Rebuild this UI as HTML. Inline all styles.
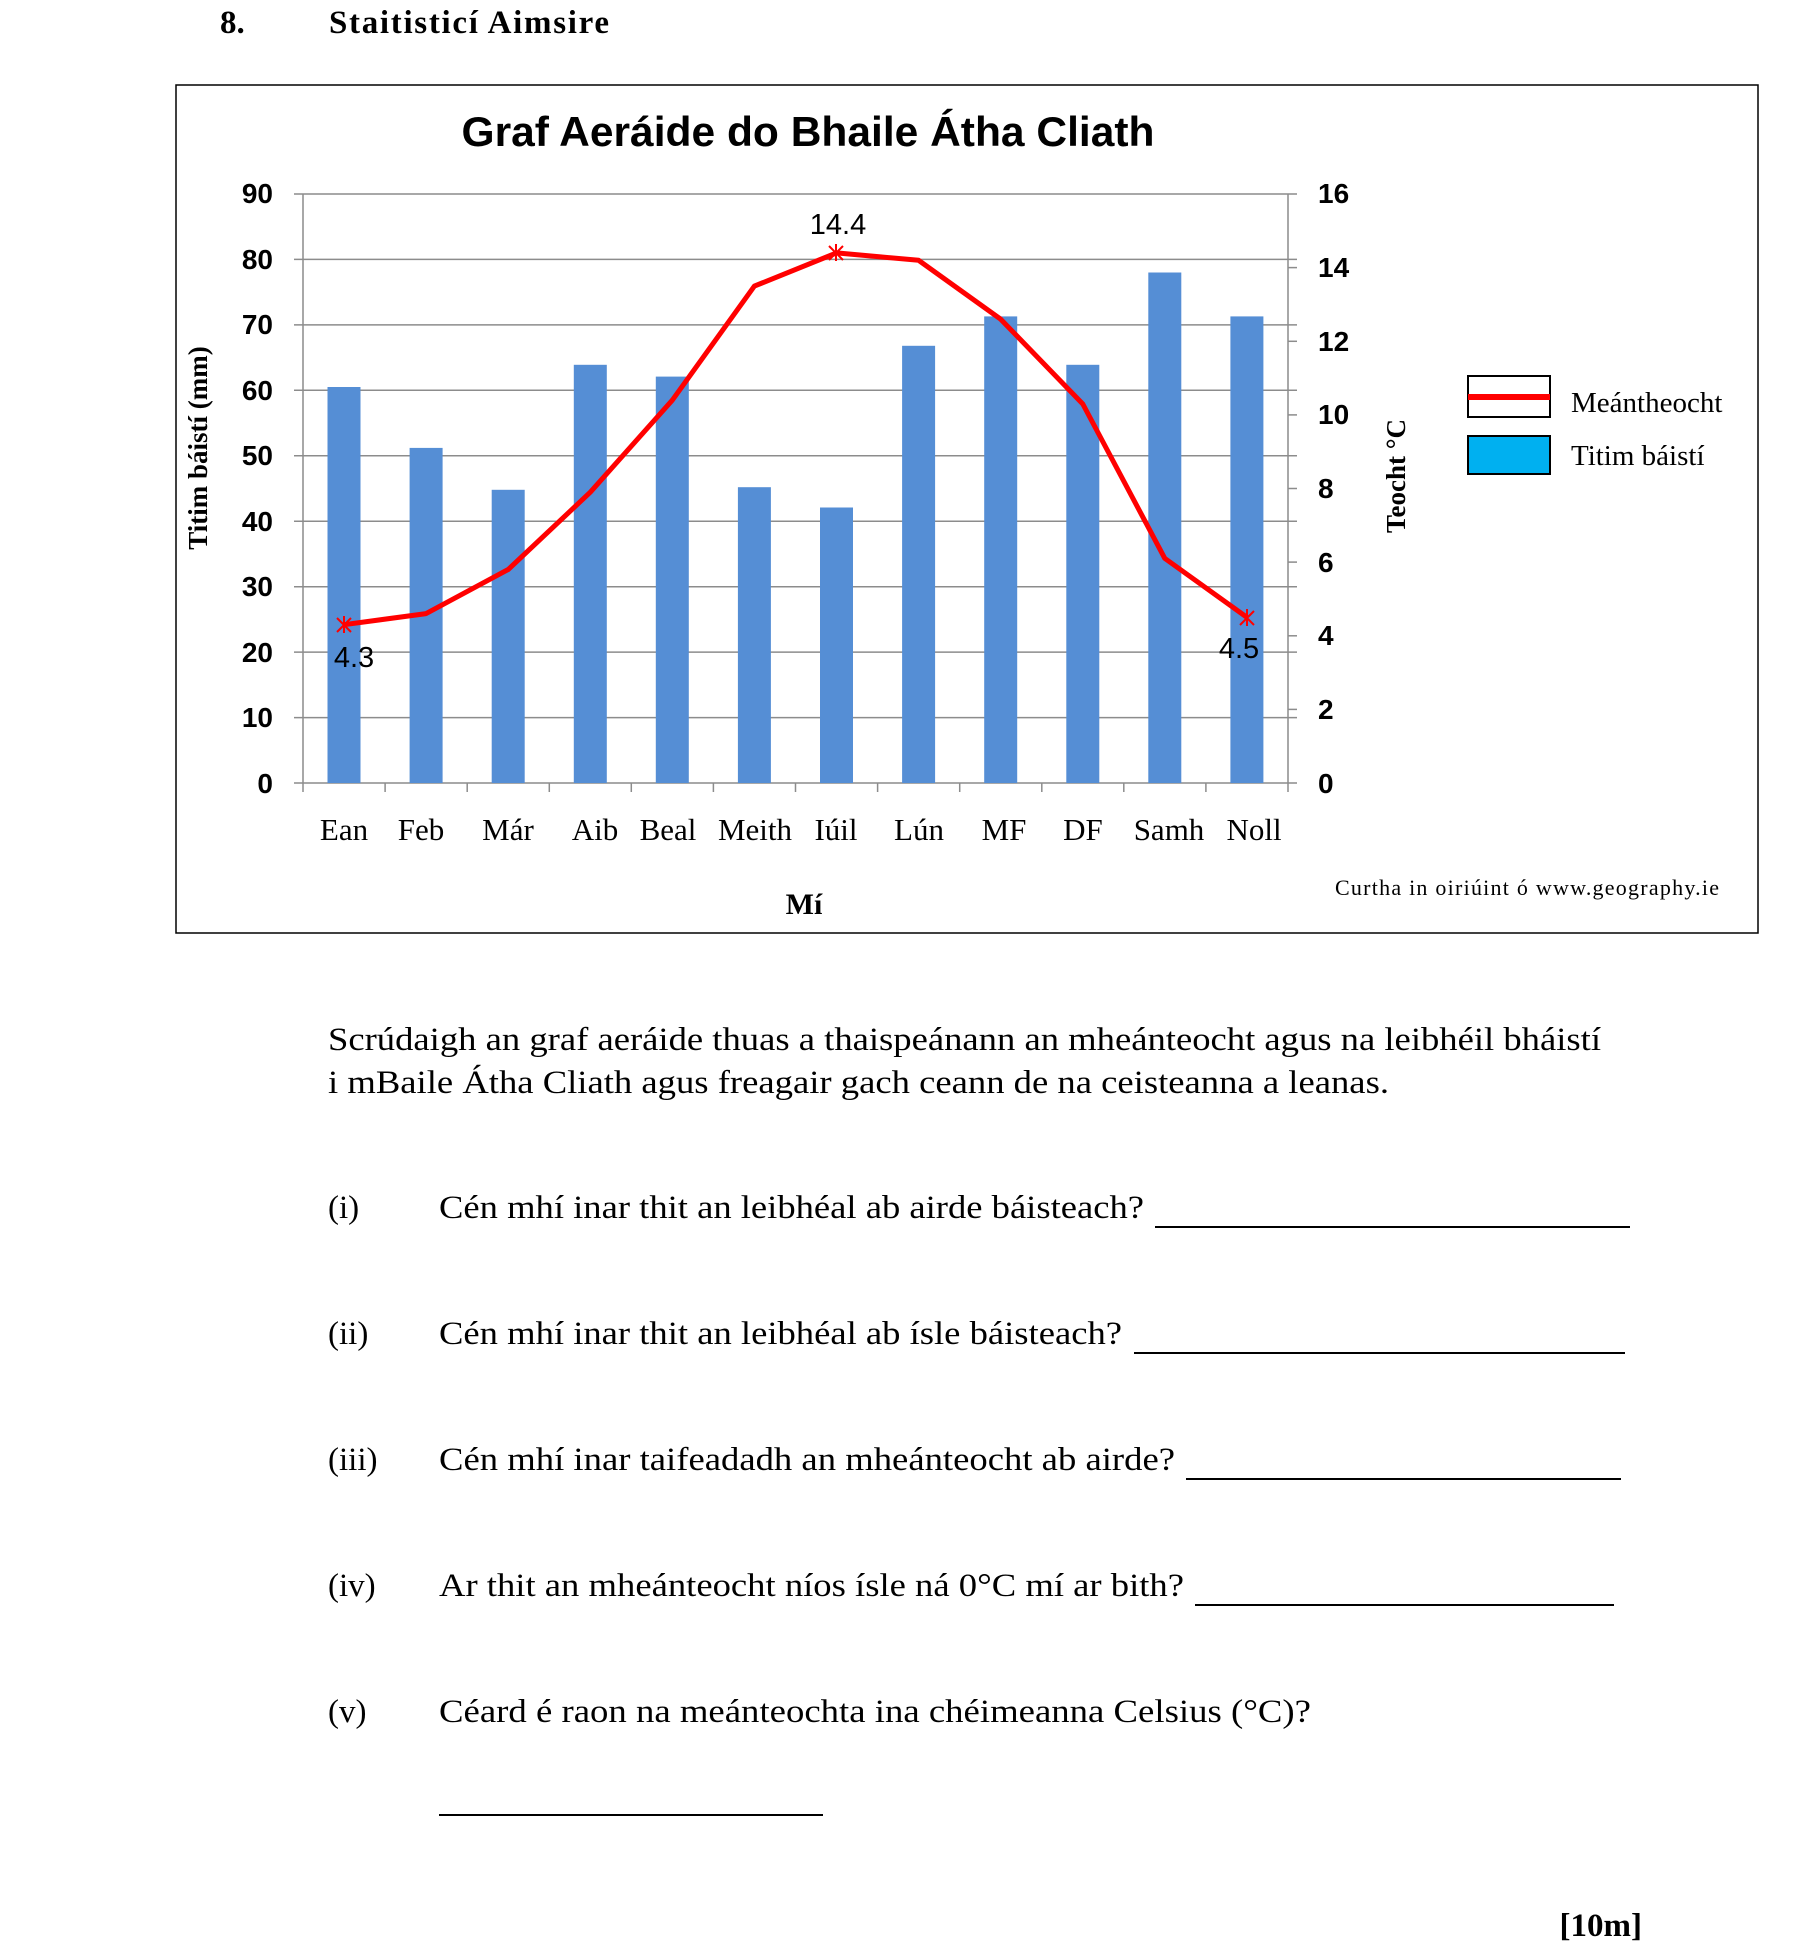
<!DOCTYPE html>
<html><head><meta charset="utf-8"><style>html,body{margin:0;padding:0;background:#fff}svg{display:block}</style></head>
<body>
<svg width="1818" height="1945" viewBox="0 0 1818 1945" xmlns="http://www.w3.org/2000/svg">
<g font-family="Liberation Serif, serif" fill="#000">
<text x="220" y="33" font-size="33" font-weight="bold">8.</text>
<text x="329" y="33" font-size="33" font-weight="bold" textLength="280">Staitisticí Aimsire</text>
</g>
<rect x="176" y="85" width="1582" height="848" fill="none" stroke="#000" stroke-width="1.5"/>
<text x="808" y="146" font-family="Liberation Sans, sans-serif" font-weight="bold" font-size="42" text-anchor="middle" textLength="693" lengthAdjust="spacingAndGlyphs">Graf Aeráide do Bhaile Átha Cliath</text>
<g stroke="#8c8c8c" stroke-width="1.5">
<line x1="294" y1="194" x2="1297" y2="194"/><line x1="294" y1="259.4" x2="1297" y2="259.4"/><line x1="294" y1="324.9" x2="1297" y2="324.9"/><line x1="294" y1="390.3" x2="1297" y2="390.3"/><line x1="294" y1="455.8" x2="1297" y2="455.8"/><line x1="294" y1="521.2" x2="1297" y2="521.2"/><line x1="294" y1="586.7" x2="1297" y2="586.7"/><line x1="294" y1="652.1" x2="1297" y2="652.1"/><line x1="294" y1="717.6" x2="1297" y2="717.6"/><line x1="294" y1="783" x2="1297" y2="783"/>
<line x1="303" y1="194" x2="303" y2="783"/><line x1="1288" y1="194" x2="1288" y2="783"/>
<line x1="1288" y1="267.6" x2="1297" y2="267.6"/><line x1="1288" y1="341.3" x2="1297" y2="341.3"/><line x1="1288" y1="414.9" x2="1297" y2="414.9"/><line x1="1288" y1="488.5" x2="1297" y2="488.5"/><line x1="1288" y1="562.1" x2="1297" y2="562.1"/><line x1="1288" y1="635.8" x2="1297" y2="635.8"/><line x1="1288" y1="709.4" x2="1297" y2="709.4"/>
<line x1="303" y1="783" x2="303" y2="792"/><line x1="385.1" y1="783" x2="385.1" y2="792"/><line x1="467.2" y1="783" x2="467.2" y2="792"/><line x1="549.3" y1="783" x2="549.3" y2="792"/><line x1="631.3" y1="783" x2="631.3" y2="792"/><line x1="713.4" y1="783" x2="713.4" y2="792"/><line x1="795.5" y1="783" x2="795.5" y2="792"/><line x1="877.6" y1="783" x2="877.6" y2="792"/><line x1="959.7" y1="783" x2="959.7" y2="792"/><line x1="1041.8" y1="783" x2="1041.8" y2="792"/><line x1="1123.8" y1="783" x2="1123.8" y2="792"/><line x1="1205.9" y1="783" x2="1205.9" y2="792"/><line x1="1288" y1="783" x2="1288" y2="792"/>
</g>
<g fill="#558ed5">
<rect x="327.5" y="387.0" width="33" height="396"/>
<rect x="409.6" y="447.9" width="33" height="335.1"/>
<rect x="491.7" y="489.8" width="33" height="293.2"/>
<rect x="573.8" y="364.8" width="33" height="418.2"/>
<rect x="655.8" y="376.6" width="33" height="406.4"/>
<rect x="737.9" y="487.2" width="33" height="295.8"/>
<rect x="820.0" y="507.5" width="33" height="275.5"/>
<rect x="902.1" y="345.8" width="33" height="437.2"/>
<rect x="984.2" y="316.4" width="33" height="466.6"/>
<rect x="1066.3" y="364.8" width="33" height="418.2"/>
<rect x="1148.3" y="272.5" width="33" height="510.5"/>
<rect x="1230.4" y="316.4" width="33" height="466.6"/>
</g>
<polyline fill="none" stroke="#ff0000" stroke-width="5" stroke-linejoin="round" points="344,624.7 426.1,613.6 508.2,569.5 590.3,492.2 672.3,400.2 754.4,286.1 836.5,252.9 918.6,260.3 1000.7,319.2 1082.8,404.0 1164.8,558.4 1246.9,617.3"/>
<g stroke="#ff0000" stroke-width="2">
<path d="M337 618l14 14M351 618l-14 14M344 616v17"/>
<path d="M829 246l14 14M843 246l-14 14M836 244v17"/>
<path d="M1240 611l14 14M1254 611l-14 14M1247 609v17"/>
</g>
<g font-family="Liberation Sans, sans-serif" font-weight="bold" font-size="28">
<g text-anchor="end">
<text x="273" y="203">90</text><text x="273" y="269">80</text><text x="273" y="334">70</text><text x="273" y="400">60</text><text x="273" y="465">50</text><text x="273" y="531">40</text><text x="273" y="596">30</text><text x="273" y="662">20</text><text x="273" y="727">10</text><text x="273" y="793">0</text>
</g>
<text x="1318" y="203">16</text><text x="1318" y="277">14</text><text x="1318" y="351">12</text><text x="1318" y="424">10</text><text x="1318" y="498">8</text><text x="1318" y="572">6</text><text x="1318" y="645">4</text><text x="1318" y="719">2</text><text x="1318" y="793">0</text>
</g>
<g font-family="Liberation Sans, sans-serif" font-size="29" text-anchor="middle">
<text x="838" y="234">14.4</text><text x="354" y="667">4.3</text><text x="1239" y="658">4.5</text>
</g>
<g font-family="Liberation Serif, serif" font-size="31" text-anchor="middle">
<text x="344" y="840">Ean</text><text x="421" y="840">Feb</text><text x="508" y="840">Már</text><text x="595" y="840">Aib</text><text x="668" y="840">Beal</text><text x="755" y="840">Meith</text><text x="836" y="840">Iúil</text><text x="919" y="840">Lún</text><text x="1004" y="840">MF</text><text x="1083" y="840">DF</text><text x="1169" y="840">Samh</text><text x="1254" y="840">Noll</text>
</g>
<text x="804" y="914" font-family="Liberation Serif, serif" font-weight="bold" font-size="30" text-anchor="middle">Mí</text>
<text transform="translate(207,448) rotate(-90)" font-family="Liberation Serif, serif" font-weight="bold" font-size="27" text-anchor="middle">Titim báistí (mm)</text>
<text transform="translate(1405,476) rotate(-90)" font-family="Liberation Serif, serif" font-weight="bold" font-size="27" text-anchor="middle">Teocht °C</text>
<rect x="1468" y="376" width="82" height="41" fill="#fff" stroke="#000" stroke-width="2"/>
<line x1="1468" y1="397" x2="1550" y2="397" stroke="#ff0000" stroke-width="6"/>
<rect x="1468" y="436" width="82" height="38" fill="#00b0f0" stroke="#000" stroke-width="2"/>
<g font-family="Liberation Serif, serif" font-size="29">
<text x="1571" y="412">Meántheocht</text>
<text x="1571" y="465">Titim báistí</text>
</g>
<text x="1335" y="895" font-family="Liberation Serif, serif" font-size="22" textLength="384">Curtha in oiriúint ó  www.geography.ie</text>
<g font-family="Liberation Serif, serif" font-size="33">
<text x="328" y="1050" textLength="1273" lengthAdjust="spacingAndGlyphs">Scrúdaigh an graf aeráide thuas a thaispeánann an mheánteocht agus na leibhéil bháistí</text>
<text x="328" y="1093" textLength="1061" lengthAdjust="spacingAndGlyphs">i mBaile Átha Cliath agus freagair gach ceann de na ceisteanna a leanas.</text>
<text x="328" y="1218">(i)</text><text x="439" y="1218" textLength="705" lengthAdjust="spacingAndGlyphs">Cén mhí inar thit an leibhéal ab airde báisteach?</text>
<text x="328" y="1344">(ii)</text><text x="439" y="1344" textLength="683" lengthAdjust="spacingAndGlyphs">Cén mhí inar thit an leibhéal ab ísle báisteach?</text>
<text x="328" y="1470">(iii)</text><text x="439" y="1470" textLength="736" lengthAdjust="spacingAndGlyphs">Cén mhí inar taifeadadh an mheánteocht ab airde?</text>
<text x="328" y="1596">(iv)</text><text x="439" y="1596" textLength="745" lengthAdjust="spacingAndGlyphs">Ar thit an mheánteocht níos ísle ná 0°C mí ar bith?</text>
<text x="328" y="1722">(v)</text><text x="439" y="1722" textLength="872" lengthAdjust="spacingAndGlyphs">Céard é raon na meánteochta ina chéimeanna Celsius (°C)?</text>
</g>
<g stroke="#000" stroke-width="2">
<line x1="1155" y1="1227" x2="1630" y2="1227"/>
<line x1="1134" y1="1353" x2="1625" y2="1353"/>
<line x1="1186" y1="1479" x2="1621" y2="1479"/>
<line x1="1195" y1="1605" x2="1614" y2="1605"/>
<line x1="439" y1="1815" x2="823" y2="1815"/>
</g>
<text x="1642" y="1936" font-family="Liberation Serif, serif" font-weight="bold" font-size="33" text-anchor="end">[10m]</text>
</svg>
</body></html>
